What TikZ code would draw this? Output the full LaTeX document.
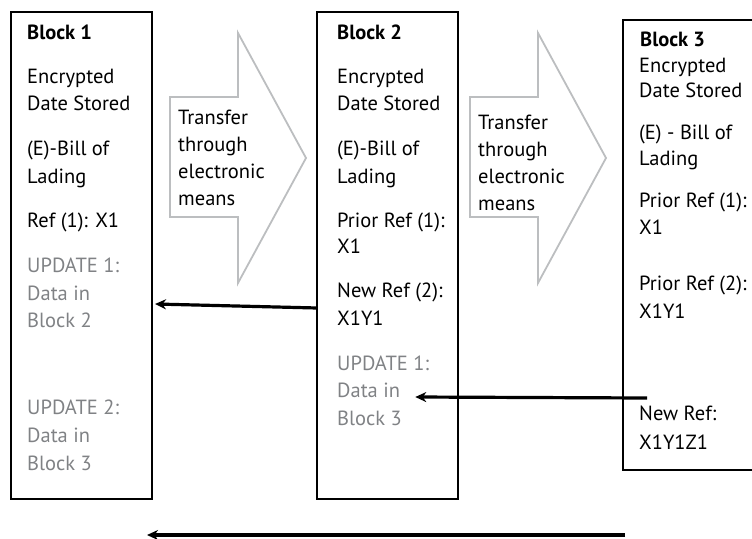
\documentclass[tikz,border=0pt]{standalone}
\usepackage{fontspec}
\setmainfont{PT Sans}
\usepackage{tikz}
\usetikzlibrary{arrows.meta,calc}
\definecolor{ChainInk}{HTML}{000000}
\definecolor{ChainGray}{HTML}{808285}
\definecolor{ChainPale}{HTML}{BCBEC0}
\tikzset{
  blockbox/.style={draw=ChainInk,line width=1.6pt,anchor=north west,inner sep=0pt,outer sep=0pt},
  linetxt/.style={anchor=base west,inner sep=0pt,font=\fontsize{20.5}{24}\selectfont,text=ChainInk},
  updtxt/.style={linetxt,text=ChainGray},
  headtxt/.style={linetxt,font=\fontsize{20.5}{24}\selectfont\bfseries},
  xferarrow/.style={draw=ChainPale,line width=1.8pt,line join=miter},
  backlink/.style={-{Stealth[length=11pt,width=10pt]},line width=3.2pt,draw=ChainInk}
}
\begin{document}
\begin{tikzpicture}[x=1pt,y=-1pt]
\useasboundingbox (0,0) rectangle (752,538);
\clip (0,0) rectangle (752,538);
% the three blocks
\node[blockbox,minimum width=141pt,minimum height=487pt] (b1) at (11,12) {};
\node[blockbox,minimum width=141pt,minimum height=487pt] (b2) at (317,12) {};
\node[blockbox,minimum width=140pt,minimum height=450pt] (b3) at (623,20) {};
% transfer arrows
\foreach \dx/\dy [count=\i] in {0/0,300/5} {
  \draw[xferarrow] (170+\dx,97) -- (238+\dx,97) -- (238+\dx,33) -- (306+\dx,158)
    -- (238+\dx,283) -- (238+\dx,217) -- (170+\dx,217) -- cycle;
  \foreach \y/\t [count=\j] in {124/Transfer,151/through,178/electronic,205/means}
    \node[linetxt] (x\i-\j) at (178+\dx,\y+\dy) {\t};
}
% block 1
\node[headtxt] (b1h) at (27,39) {Block 1};
\foreach \y/\t [count=\i] in {83/Encrypted,110/Date Stored,155/(E)-Bill of,183/Lading,227/Ref (1): X1}
  \node[linetxt] (b1l\i) at (27,\y) {\t};
\foreach \y/\t [count=\i] in {272/UPDATE 1:,300/Data in,327/Block 2,414/UPDATE 2:,442/Data in,470/Block 3}
  \node[updtxt] (b1u\i) at (27,\y) {\t};
% block 2
\node[headtxt] (b2h) at (337,39) {Block 2};
\foreach \y/\t [count=\i] in {83/Encrypted,110/Date Stored,155/(E)-Bill of,183/Lading,227/Prior Ref (1):,253/X1,297/New Ref (2):,325/X1Y1}
  \node[linetxt] (b2l\i) at (337,\y) {\t};
\foreach \y/\t [count=\i] in {370/UPDATE 1:,397/Data in,425/Block 3}
  \node[updtxt] (b2u\i) at (337,\y) {\t};
% block 3
\node[headtxt] (b3h) at (640,46) {Block 3};
\foreach \y/\t [count=\i] in {72/Encrypted,97/Date Stored,139/(E) - Bill of,165/Lading,207/Prior Ref (1):,234/X1,290/Prior Ref (2):,318/X1Y1,420/New Ref:,449/X1Y1Z1}
  \node[linetxt] (b3l\i) at (639,\y) {\t};
% links back
\draw[backlink] ($(b2.west |- b1u2.base)+(0,8)$) -- ($(b1.east |- b1u2.base)+(3,4)$);
\draw[backlink] ($(b3.west |- b2u2.base)+(24,1)$) -- ($(b2u2.base east)+(15,0)$);
\coordinate (tail) at (625,535);
\coordinate (head) at (147,535);
\draw[backlink] (tail) -- (head);
\end{tikzpicture}
\end{document}
